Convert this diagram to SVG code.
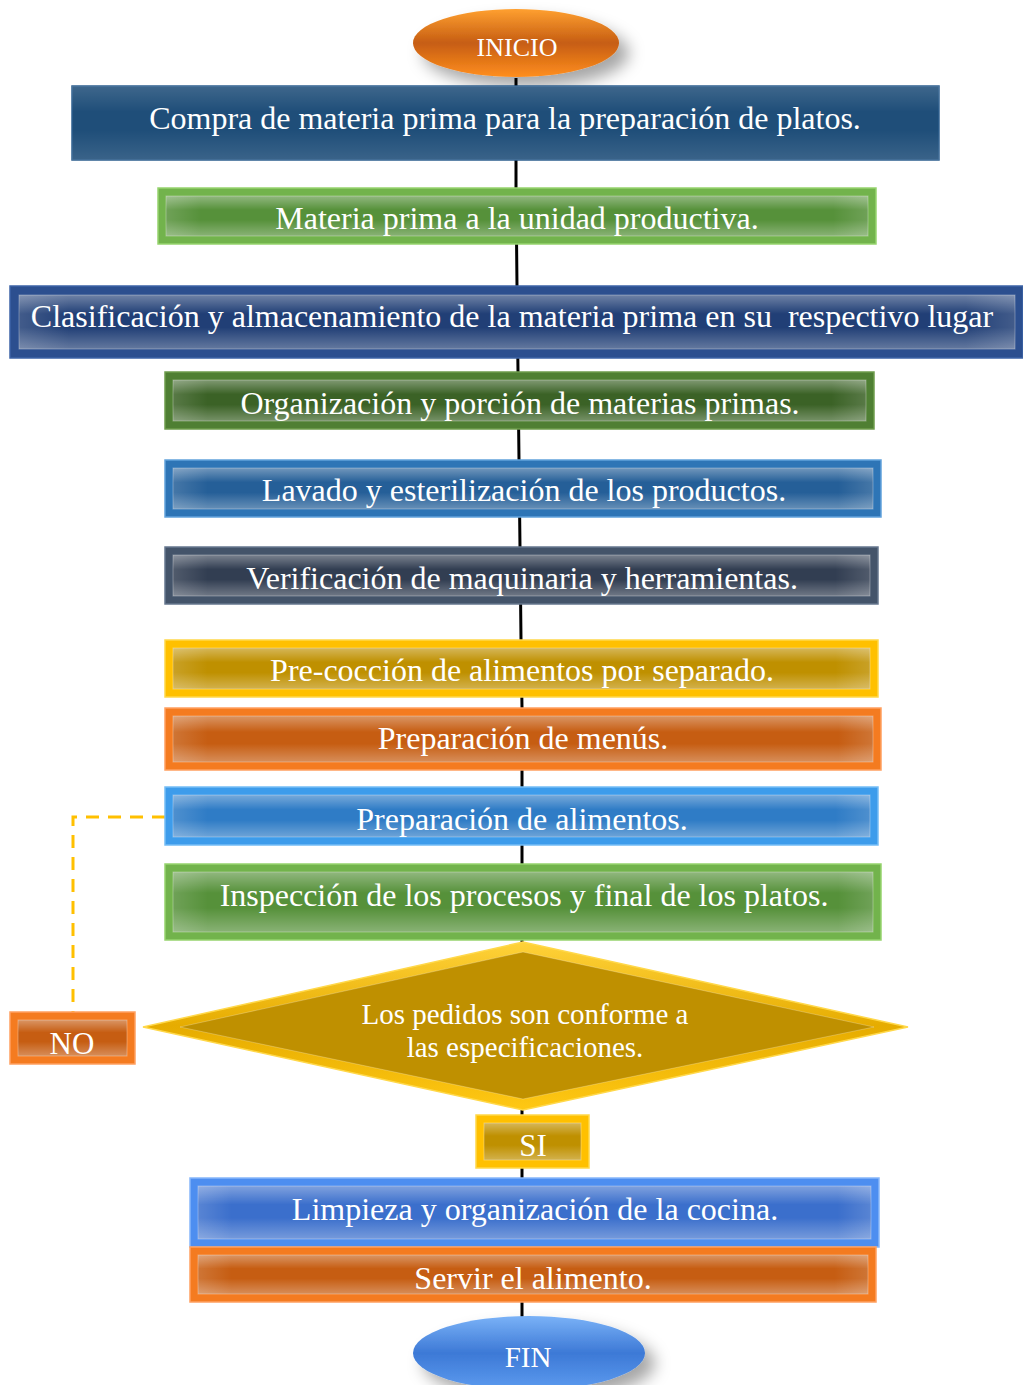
<svg xmlns="http://www.w3.org/2000/svg" width="1023" height="1385" viewBox="0 0 1023 1385">
<defs>
<linearGradient id="sheen" x1="0" y1="0" x2="0" y2="1">
<stop offset="0" stop-color="#fff" stop-opacity="0.35"/>
<stop offset="0.35" stop-color="#fff" stop-opacity="0"/>
<stop offset="0.6" stop-color="#fff" stop-opacity="0"/>
<stop offset="1" stop-color="#fff" stop-opacity="0.3"/>
</linearGradient>
<linearGradient id="sheenH" x1="0" y1="0" x2="1" y2="0">
<stop offset="0" stop-color="#fff" stop-opacity="0.15"/>
<stop offset="0.05" stop-color="#fff" stop-opacity="0"/>
<stop offset="0.95" stop-color="#fff" stop-opacity="0"/>
<stop offset="1" stop-color="#fff" stop-opacity="0.15"/>
</linearGradient>
<linearGradient id="gOrangeEl" x1="0" y1="0" x2="0" y2="1">
<stop offset="0" stop-color="#FFA030"/>
<stop offset="0.5" stop-color="#C65D12"/>
<stop offset="1" stop-color="#FF8E1E"/>
</linearGradient>
<linearGradient id="gBlueEl" x1="0" y1="0" x2="0" y2="1">
<stop offset="0" stop-color="#7AB2F7"/>
<stop offset="0.5" stop-color="#3D79D6"/>
<stop offset="1" stop-color="#5C9BEF"/>
</linearGradient>
<linearGradient id="gGold" x1="0" y1="0" x2="0" y2="1">
<stop offset="0" stop-color="#FFD23A"/>
<stop offset="0.5" stop-color="#E6AC00"/>
<stop offset="1" stop-color="#FFC814"/>
</linearGradient>
<filter id="shadow" x="-20%" y="-20%" width="150%" height="170%">
<feDropShadow dx="10" dy="10" stdDeviation="8" flood-color="#000" flood-opacity="0.35"/>
</filter>
</defs>
<style>
text{font-family:"Liberation Serif","Times New Roman",serif;fill:#fff;text-anchor:middle;font-size:32px;white-space:pre}
.o{stroke-width:1.5}
.i{stroke:#fff;stroke-opacity:0.3;stroke-width:1}
.sh{fill:url(#sheen)}
.shh{fill:url(#sheenH)}
.green .o{fill:#72B34C;stroke:#96D46E}.green .i{fill:#56913A}
.navy .o{fill:#2C4F8F;stroke:#3D63A6}.navy .i{fill:#213F76}
.dgreen .o{fill:#4F7F33;stroke:#6E9C4C}.dgreen .i{fill:#3B6226}
.blue .o{fill:#2E75B6;stroke:#62A2DC}.blue .i{fill:#255F98}
.slate .o{fill:#44546A;stroke:#66778E}.slate .i{fill:#323E52}
.gold .o{fill:#FFC000;stroke:#FFD84A}.gold .i{fill:#BF9000}
.orange .o{fill:#F47B20;stroke:#FFA060}.orange .i{fill:#C65D12}
.lblue .o{fill:#3D9CEB;stroke:#74BDF6}.lblue .i{fill:#2F7CC6}
.bblue .o{fill:#4D8EF0;stroke:#86B6FA}.bblue .i{fill:#3B6FCC}
.conn{fill:none;stroke:#000;stroke-width:3}
.dash{fill:none;stroke:#FFC000;stroke-width:3;stroke-dasharray:13 9}
</style>

<g id="connectors">
<path class="conn" d="M516 78 L516 188 L517 286 L518 372 L519 460 L520 547 L521 640 L522 708 L522 1318"/>
<path class="dash" d="M165 817 H73 V1012"/>
</g>

<g id="inicio">
<ellipse cx="516" cy="43" rx="103" ry="34" fill="url(#gOrangeEl)" filter="url(#shadow)"/>
<text x="517" y="56" style="font-size:26px">INICIO</text>
</g>

<g id="n1">
<rect x="72" y="86" width="867" height="74" fill="#1F4E79" stroke="#2E5F8E" stroke-width="1.5"/>
<rect x="72" y="86" width="867" height="74" class="sh" opacity="0.4"/>
<text x="505" y="129">Compra de materia prima para la preparación de platos.</text>
</g>

<g id="n2" class="green">
<rect class="o" x="158" y="188" width="718" height="56"/>
<rect class="i" x="166" y="196" width="702" height="40"/>
<rect class="sh" x="166" y="196" width="702" height="40"/>
<rect class="shh" x="166" y="196" width="702" height="40"/>
<text x="517" y="229">Materia prima a la unidad productiva.</text>
</g>

<g id="n3" class="navy">
<rect class="o" x="10" y="286" width="1013" height="72"/>
<rect class="i" x="19" y="295" width="996" height="54"/>
<rect class="sh" x="19" y="295" width="996" height="54"/>
<rect class="shh" x="19" y="295" width="996" height="54"/>
<text x="512" y="327">Clasificación y almacenamiento de la materia prima en su  respectivo lugar</text>
</g>

<g id="n4" class="dgreen">
<rect class="o" x="165" y="372" width="709" height="57"/>
<rect class="i" x="173" y="380" width="693" height="41"/>
<rect class="sh" x="173" y="380" width="693" height="41"/>
<rect class="shh" x="173" y="380" width="693" height="41"/>
<text x="520" y="414">Organización y porción de materias primas.</text>
</g>

<g id="n5" class="blue">
<rect class="o" x="165" y="460" width="716" height="57"/>
<rect class="i" x="173" y="468" width="700" height="41"/>
<rect class="sh" x="173" y="468" width="700" height="41"/>
<rect class="shh" x="173" y="468" width="700" height="41"/>
<text x="524" y="501">Lavado y esterilización de los productos.</text>
</g>

<g id="n6" class="slate">
<rect class="o" x="165" y="547" width="713" height="57"/>
<rect class="i" x="173" y="555" width="697" height="41"/>
<rect class="sh" x="173" y="555" width="697" height="41"/>
<rect class="shh" x="173" y="555" width="697" height="41"/>
<text x="522" y="589">Verificación de maquinaria y herramientas.</text>
</g>

<g id="n7" class="gold">
<rect class="o" x="165" y="640" width="713" height="57"/>
<rect class="i" x="173" y="648" width="697" height="41"/>
<rect class="sh" x="173" y="648" width="697" height="41"/>
<rect class="shh" x="173" y="648" width="697" height="41"/>
<text x="522" y="681">Pre-cocción de alimentos por separado.</text>
</g>

<g id="n8" class="orange">
<rect class="o" x="165" y="708" width="716" height="62"/>
<rect class="i" x="173" y="716" width="700" height="46"/>
<rect class="sh" x="173" y="716" width="700" height="46"/>
<rect class="shh" x="173" y="716" width="700" height="46"/>
<text x="523" y="749">Preparación de menús.</text>
</g>

<g id="n9" class="lblue">
<rect class="o" x="165" y="787" width="713" height="58"/>
<rect class="i" x="173" y="795" width="697" height="42"/>
<rect class="sh" x="173" y="795" width="697" height="42"/>
<rect class="shh" x="173" y="795" width="697" height="42"/>
<text x="522" y="830">Preparación de alimentos.</text>
</g>

<g id="n10" class="green">
<rect class="o" x="165" y="864" width="716" height="76"/>
<rect class="i" x="173" y="872" width="700" height="60"/>
<rect class="sh" x="173" y="872" width="700" height="60"/>
<rect class="shh" x="173" y="872" width="700" height="60"/>
<text x="524" y="906">Inspección de los procesos y final de los platos.</text>
</g>

<g id="decision">
<polygon points="143,1027 523,942 908,1027 523,1110" fill="url(#gGold)" stroke="#FFD84A" stroke-width="1.5"/>
<polygon points="180,1027 523,952 874,1027 523,1099" fill="#BF9000" stroke="#fff" stroke-opacity="0.25"/>
<text x="525" y="1024" style="font-size:29px">Los pedidos son conforme a</text>
<text x="525" y="1057" style="font-size:29px">las especificaciones.</text>
</g>

<g id="no" class="orange">
<rect class="o" x="10" y="1012" width="125" height="52"/>
<rect class="i" x="18" y="1020" width="109" height="36"/>
<rect class="sh" x="18" y="1020" width="109" height="36"/>
<text x="72" y="1054" style="font-size:31px">NO</text>
</g>

<g id="si" class="gold">
<rect class="o" x="476" y="1115" width="113" height="53"/>
<rect class="i" x="484" y="1123" width="97" height="37"/>
<rect class="sh" x="484" y="1123" width="97" height="37"/>
<text x="533" y="1156" style="font-size:31px">SI</text>
</g>

<g id="n11" class="bblue">
<rect class="o" x="190" y="1178" width="689" height="69"/>
<rect class="i" x="198" y="1186" width="673" height="53"/>
<rect class="sh" x="198" y="1186" width="673" height="53"/>
<rect class="shh" x="198" y="1186" width="673" height="53"/>
<text x="535" y="1220">Limpieza y organización de la cocina.</text>
</g>

<g id="n12" class="orange">
<rect class="o" x="190" y="1247" width="686" height="55"/>
<rect class="i" x="198" y="1255" width="670" height="39"/>
<rect class="sh" x="198" y="1255" width="670" height="39"/>
<rect class="shh" x="198" y="1255" width="670" height="39"/>
<text x="533" y="1289">Servir el alimento.</text>
</g>

<g id="fin">
<ellipse cx="529" cy="1353" rx="116" ry="37" fill="url(#gBlueEl)" filter="url(#shadow)"/>
<text x="528" y="1367" style="font-size:29px">FIN</text>
</g>
</svg>
